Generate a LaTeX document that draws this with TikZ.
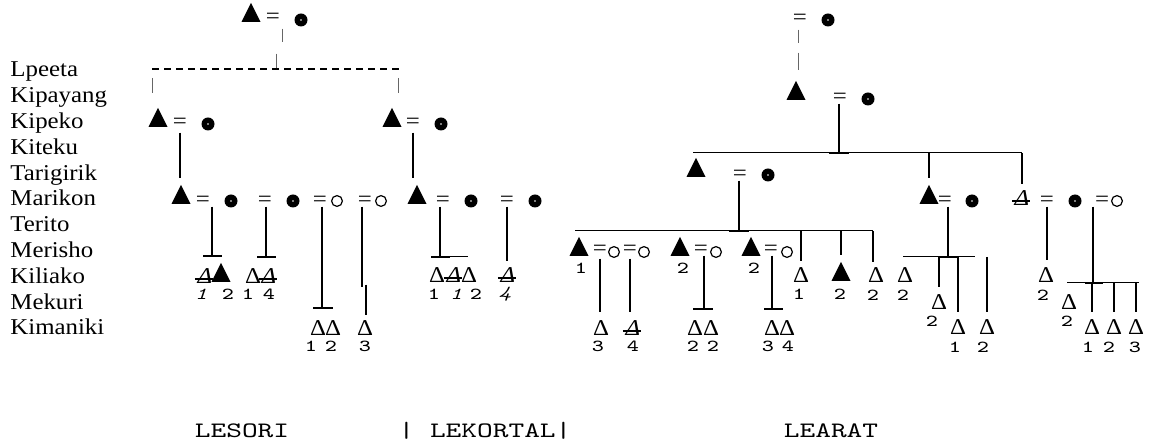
\documentclass[tikz,border=0pt]{standalone}
\usepackage{fontspec}
\setmainfont{Liberation Serif}[FakeStretch=1.1]
\setmonofont{Latin Modern Mono}[FakeStretch=1.36]
\usetikzlibrary{shapes.geometric}

\tikzset{
  male/.style={isosceles triangle, isosceles triangle stretches, shape border rotate=90,
    minimum width=9.5pt, minimum height=9.5pt, inner sep=0pt, fill=black},
  fem/.style={circle, fill=black, inner sep=0pt, minimum size=6.5pt,
    path picture={\fill[white] (path picture bounding box.center) circle (0.4pt);}},
  wife/.style={circle, draw, line width=0.6pt, inner sep=0pt, minimum size=5.4pt},
  son/.style={inner sep=0pt, font=\fontsize{11.3}{12}\selectfont},
  deadson/.style={inner sep=0pt, font=\fontsize{11.3}{12}\selectfont\itshape},
  wed/.style={inner sep=0pt, font=\fontsize{11.3}{12}\selectfont},
  num/.style={inner sep=0pt, font=\ttfamily\fontsize{8.4}{9}\selectfont},
  deadnum/.style={inner sep=0pt, font=\ttfamily\fontsize{8.4}{9}\selectfont\itshape},
  gen/.style={inner sep=0pt, anchor=base west, font=\fontsize{11.3}{12}\selectfont},
  clan/.style={inner sep=0pt, anchor=base, font=\ttfamily\fontsize{11}{12}\selectfont},
  kin/.style={line width=0.65pt},
  sib/.style={line width=1pt},
  rule/.style={line width=0.5pt},
  faint/.style={line width=0.5pt, black!60},
}

\newcommand{\deadman}[2]{%
  \node[deadson] (#1) at (#2) {Δ};
  \draw[line width=0.6pt] ([xshift=-1.2pt,yshift=-1.5pt]#1.west) -- ([yshift=-1.5pt]#1.east);}

\begin{document}
\begin{tikzpicture}[x=0.5pt,y=-0.5pt]
\useasboundingbox (0,0) rectangle (1152,448);

% age sets
\foreach \g [count=\i from 0] in {Lpeeta,Kipayang,Kipeko,Kiteku,Tarigirik,Marikon,Terito,Merisho,Kiliako,Mekuri,Kimaniki}
  \node[gen] (g\i) at (10,{77+25.8*\i}) {\g};

% Lesori / Lekortal, top couple
\node[male] (t0) at (251,16) {};
\node[wed] (t0e) at (273,18) {=};
\node[fem] (t0w) at (301,20) {};
\draw[faint] (t0e.south) ++(9,5) -- ++(0,13) ++(-6,12) -- ++(0,15);
\coordinate (lpL) at (152,69);
\coordinate (lpR) at (399,69);
\draw[rule, line width=0.65pt, dash pattern=on 3.5pt off 2.5pt] (lpL) -- (lpR);
\draw[faint] (lpL) ++(0,9) -- ++(0,15);
\draw[faint] (lpR) ++(-1,9) -- ++(0,15);

% Kipeko
\node[male] (kp1) at (158,121) {};
\node[wed] (kp1e) at (180,123) {=};
\node[fem] (kp1w) at (208,124) {};
\node[male] (kp2) at (392,121) {};
\node[wed] (kp2e) at (413,123) {=};
\node[fem] (kp2w) at (441,124) {};

% Marikon
\node[male] (mk1) at (181,198) {};
\node[wed] (mk1e) at (203,201) {=};
\node[fem] (mk1w) at (231,201) {};
\node[wed] (mk2e) at (265,201) {=};
\node[fem] (mk2w) at (293,201) {};
\node[wed] (mk3e) at (320,201) {=};
\node[wife] (mk3w) at (337,201) {};
\node[wed] (mk4e) at (365,201) {=};
\node[wife] (mk4w) at (381,201) {};
\node[male] (mk5) at (417,198) {};
\node[wed] (mk5e) at (443,201) {=};
\node[fem] (mk5w) at (471,201) {};
\node[wed] (mk6e) at (507,201) {=};
\node[fem] (mk6w) at (535,201) {};
\draw[kin, shorten <=2pt, shorten >=3pt] (kp1e.south) -- (kp1e.south |- mk1.north);
\draw[kin, shorten <=2pt, shorten >=3pt] (kp2e.south) -- (kp2e.south |- mk5.north);

% Kiliako and Kimaniki
\deadman{kl1}{205,276}
\node[male] (kl2) at (221,276) {};
\deadman{kl4}{269,276}
\deadman{kl6}{454,275}
\deadman{kl8}{508,275}
\deadman{km5}{633,328}
\foreach \nm/\x/\y in {kl3/253/276, km1/318/328, km2/333/328, km3/365/328, kl5/437/275, kl7/469/275}
  \node[son] (\nm) at (\x,\y) {Δ};

\coordinate (s1) at (212,256);
\draw[kin] (s1 |- mk1e.south) -- (s1);
\draw[sib] (s1) ++(-9,0) -- ++(19,0);
\coordinate (s2) at (266,257);
\draw[kin] (s2 |- mk2e.south) -- (s2);
\draw[sib] (s2) ++(-9,0) -- ++(19,0);
\coordinate (s3) at (322,308);
\draw[kin] (s3 |- mk3e.south) -- (s3);
\draw[sib] (s3) ++(-9,0) -- ++(20,0);
\draw[kin] (mk4e.south) ++(-3,0) -- ++(0,80) ++(4,-2) -- ++(0,30);
\coordinate (s5) at (440,257);
\draw[kin] (s5 |- mk5e.south) -- (s5);
\draw[sib] (s5) ++(-9,0) -- ++(19,0);
\draw[rule] (s5) ++(10,0) -- ++(18,0);
\draw[kin, shorten >=3pt] (mk6e.south) -- (mk6e.south |- kl8.north);

% Learat
\node[wed] (r0e) at (800,19) {=};
\node[fem] (r0w) at (828,20) {};
\draw[faint] (r0e.south) ++(-2,5) -- ++(0,13) ++(0,10) -- ++(0,17);
\node[male] (ky) at (796,94) {};
\node[wed] (kye) at (840,98) {=};
\node[fem] (kyw) at (868,99) {};
\coordinate (jk) at (839,153);
\coordinate (jkL) at (693,153);
\coordinate (jkR) at (1022,153);
\draw[kin] (jk |- kye.south) -- (jk);
\draw[rule] (jkL) -- (jkR);
\draw[sib] (jk) ++(-10,0) -- ++(20,0);

\node[male] (tg) at (696,171) {};
\node[wed] (tge) at (740,175) {=};
\node[fem] (tgw) at (768,175) {};
\coordinate (jt) at (739,231);
\coordinate (jtL) at (575,231);
\coordinate (jtR) at (873,231);
\draw[kin] (jt |- tge.south) -- (jt);
\draw[rule] (jtL) -- (jtR);
\draw[sib] (jt) ++(-10,0) -- ++(20,0);

\node[male] (rm1) at (929,198) {};
\node[wed] (rm1e) at (945,201) {=};
\node[fem] (rm1w) at (972,201) {};
\deadman{rm2}{1022,198}
\node[wed] (rm2e) at (1047,201) {=};
\node[fem] (rm2w) at (1075,201) {};
\node[wed] (rm3e) at (1102,201) {=};
\node[wife] (rm3w) at (1117,201) {};
\draw[kin, shorten >=3pt] (rm1.north |- jkR) -- (rm1.north);
\draw[kin, shorten >=3pt] (rm2.north |- jkR) -- (rm2.north);

\node[male] (me1) at (579,250) {};
\node[wed] (me1e) at (600,250) {=};
\node[wife] (me1w) at (614,252) {};
\node[wed] (me2e) at (630,250) {=};
\node[wife] (me2w) at (644,252) {};
\node[male] (me3) at (680,250) {};
\node[wed] (me3e) at (701,250) {=};
\node[wife] (me3w) at (716,252) {};
\node[male] (me4) at (751,250) {};
\node[wed] (me4e) at (771,250) {=};
\node[wife] (me4w) at (787,252) {};

\node[male] (lr2) at (841,275) {};
\foreach \nm/\x/\y in {lr1/801/275, lr3/876/275, lr4/905/275, lr5/1046/275, mq1/939/302, mq2/1069/302,
    km4/601/328, km6/695/328, km7/711/328, km8/772/328, km9/787/328,
    km10/958/327, km11/987/327, km12/1092/327, km13/1114/327, km14/1136/327}
  \node[son] (\nm) at (\x,\y) {Δ};

\draw[kin, shorten >=3pt] (lr1.north |- jtR) -- (lr1.north);
\draw[kin, shorten >=3pt] (lr2.north |- jtR) -- (lr2.north);
\draw[kin] (jtR) -- ++(0,31);

\draw[kin, shorten <=1.5pt, shorten >=4pt] (me1e.south) -- (me1e.south |- km4.north);
\draw[kin, shorten <=1.5pt, shorten >=4pt] (me2e.south) -- (me2e.south |- km5.north);
\coordinate (jq3) at (704,309);
\draw[kin] (jq3 |- me3e.south) -- (jq3);
\draw[sib] (jq3) ++(-11,0) -- ++(20,0);
\coordinate (jq4) at (772,309);
\draw[kin] (jq4 |- me4e.south) -- (jq4);
\draw[sib] (jq4) ++(-8,0) -- ++(19,0);

\coordinate (jm1) at (948,257);
\draw[kin] (jm1 |- rm1e.south) -- (jm1);
\draw[rule] (jm1) ++(-45,0) -- ++(72,0);
\draw[sib] (jm1) ++(-10,0) -- ++(19,0);
\foreach \c in {mq1,km10,km11}
  \draw[kin, shorten >=3.5pt] (\c.north |- jm1) -- (\c.north);
\draw[kin, shorten >=3.5pt] (rm2e.south) -- (rm2e.south |- lr5.north);
\coordinate (jm3) at (1093,283);
\draw[kin] (jm3 |- rm3e.south) -- (jm3);
\draw[rule] (jm3) ++(-26,0) -- ++(72,0);
\draw[sib] (jm3) ++(-8,0) -- ++(18,0);
\foreach \c in {km12,km13,km14}
  \draw[kin, shorten >=3.5pt] (\c.north |- jm3) -- (\c.north);

% numbers
\foreach \x/\y/\n [count=\k] in {228/294/2, 248/294/1, 269/294/4, 434/294/1, 476/294/2,
    311/346/1, 331/346/2, 365/346/3, 581/268/1, 683/268/2, 754/268/2,
    799/294/1, 840/294/2, 873/295/2, 903/295/2, 1043/295/2, 932/321/2, 1067/321/2,
    598/346/3, 633/346/4, 693/346/2, 713/346/2, 768/346/3, 788/346/4,
    955/347/1, 983/347/2, 1088/347/1, 1109/347/2, 1135/347/3}
  \node[num] (n\k) at (\x,\y) {\n};
\foreach \x/\y/\n [count=\k] in {201/294/1, 456/294/1, 505/294/4}
  \node[deadnum] (nd\k) at (\x,\y) {\n};

% sections
\node[clan] (c1) at (242,438) {LESORI};
\node[clan] (c2) at (485,438) {|\ LEKORTAL|};
\node[clan] (c3) at (831,438) {LEARAT};

\end{tikzpicture}
\end{document}
